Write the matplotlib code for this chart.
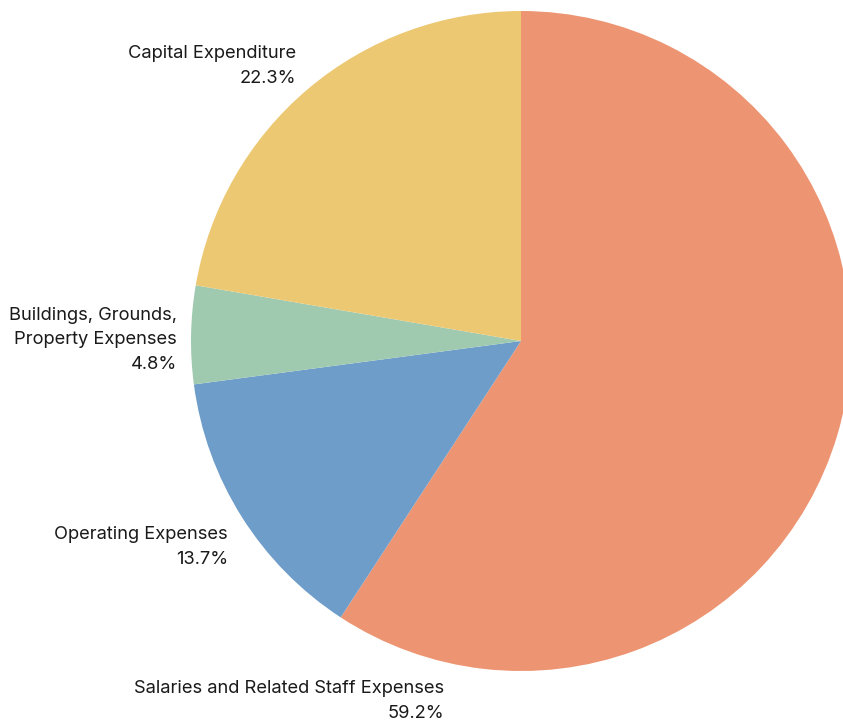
import matplotlib
matplotlib.use("Agg")
import matplotlib.pyplot as plt

categories = ["Salaries and Related Staff Expenses", "Operating Expenses",
              "Buildings, Grounds,\nProperty Expenses", "Capital Expenditure"]
values = [59.2, 13.7, 4.8, 22.3]
colors = ["#ED9572", "#6F9DC9", "#9FCAB0", "#EDC873"]

plt.rcParams['font.family'] = ['Inter', 'DejaVu Sans']

fig = plt.figure(figsize=(8.43, 7.2), dpi=100)
ax = fig.add_axes([0, 0, 1, 1])

cx, cy, r = 521, 720 - 341, 330
ax.pie(values, colors=colors, startangle=90, counterclock=False,
       center=(cx, cy), radius=r, frame=True,
       wedgeprops=dict(linewidth=0, antialiased=True))
ax.set_xlim(0, 843)
ax.set_ylim(0, 720)
ax.set_aspect('equal')
ax.axis('off')

label_pos = [(444, 720 - 701), (228, 720 - 547), (177, 720 - 340), (296, 720 - 66)]
for cat, val, (x, y) in zip(categories, values, label_pos):
    ax.text(x, y, f"{cat}\n{val:.1f}%", ha='right', va='center',
            fontsize=13.2, color='#1a1a1a', linespacing=1.55, multialignment='right')

fig.savefig("out.png", dpi=100)
